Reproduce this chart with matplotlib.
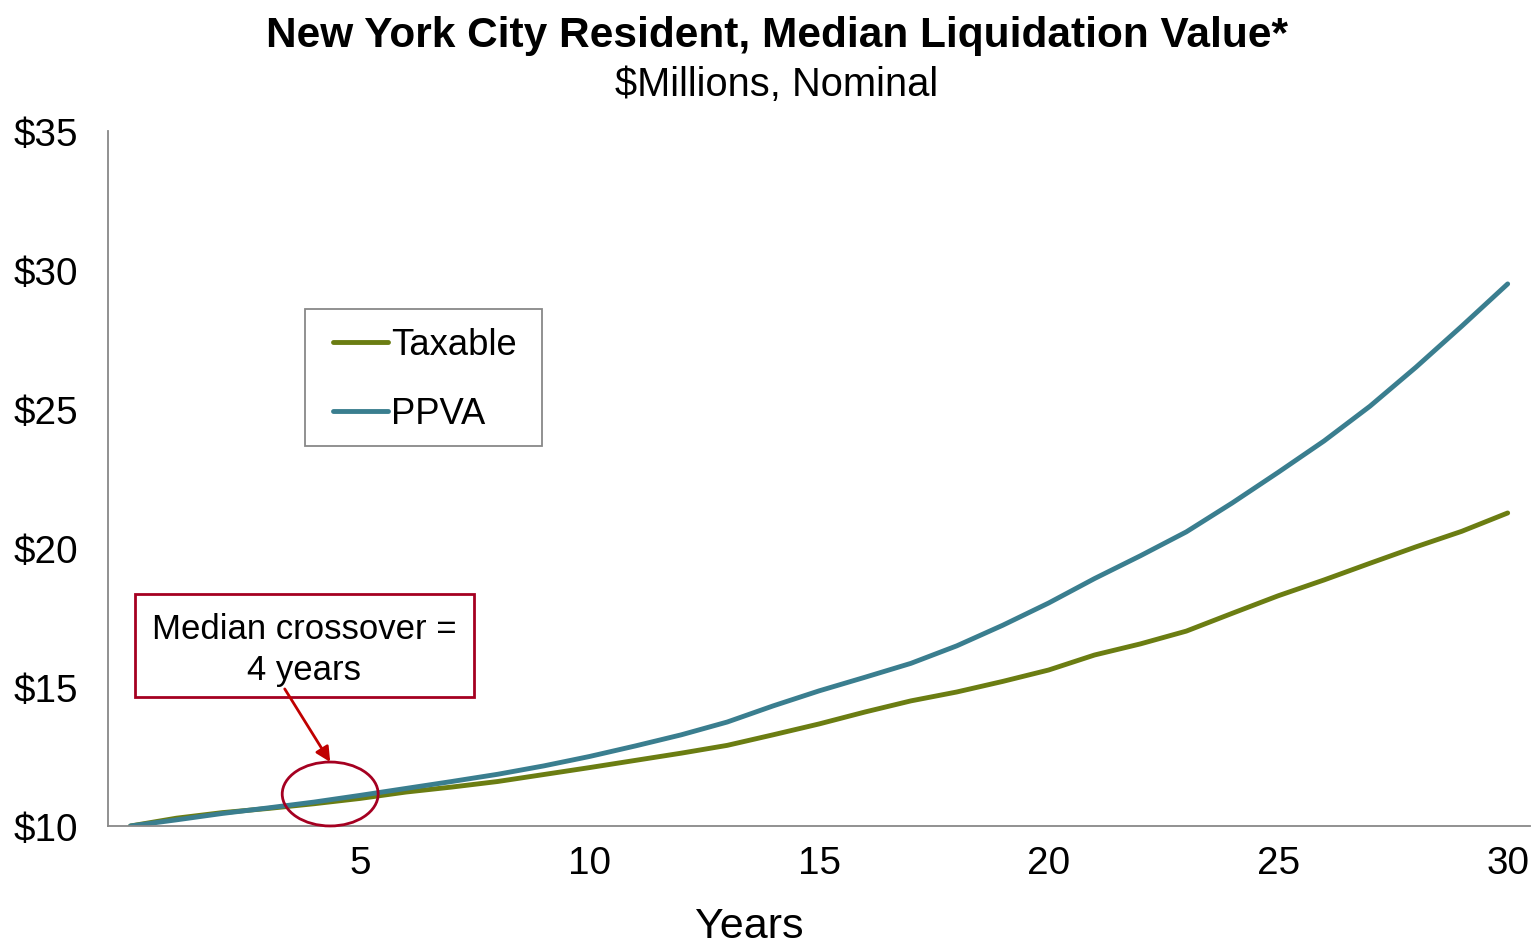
import numpy as np
import matplotlib
matplotlib.use("Agg")
from matplotlib import pyplot as plt
from matplotlib.patches import Ellipse, Rectangle

plt.rcParams['font.family'] = ['Liberation Sans', 'DejaVu Sans']

# values ($ millions, nominal)
years = list(range(0, 31))
taxable = [10.00, 10.28, 10.48, 10.63, 10.80, 10.99, 11.22, 11.40, 11.60, 11.85,
           12.10, 12.36, 12.62, 12.90, 13.28, 13.67, 14.10, 14.50, 14.82, 15.20,
           15.61, 16.15, 16.55, 17.01, 17.65, 18.28, 18.85, 19.45, 20.04, 20.60,
           21.26]
ppva = [10.00, 10.22, 10.45, 10.65, 10.86, 11.10, 11.35, 11.60, 11.86, 12.16,
        12.50, 12.88, 13.28, 13.74, 14.32, 14.86, 15.35, 15.85, 16.48, 17.22,
        18.02, 18.90, 19.72, 20.58, 21.62, 22.72, 23.85, 25.10, 26.50, 27.98,
        29.50]
series_names = ['Taxable', 'PPVA']
x_ticks = [5, 10, 15, 20, 25, 30]
y_ticks = [10, 15, 20, 25, 30, 35]

green = '#6B7D12'
teal = '#3A7E8F'
red = '#A50021'

fig = plt.figure(figsize=(15.32, 9.45), dpi=100)
ax = fig.add_axes([0.0705, 0.1249, 0.928, 0.7354])

ax.plot(years, taxable, color=green, lw=3.5, label=series_names[0], solid_capstyle='round')
ax.plot(years, ppva, color=teal, lw=3.5, label=series_names[1], solid_capstyle='round')

ax.set_xlim(-0.49, 30.48)
ax.set_ylim(10, 35)
ax.set_xticks(x_ticks)
ax.set_yticks(y_ticks)
ax.set_yticklabels(['$%d' % v for v in y_ticks])
ax.tick_params(axis='both', length=0, labelsize=27.8)
ax.tick_params(axis='y', pad=21.5)
ax.tick_params(axis='x', pad=14)
for s in ['top', 'right']:
    ax.spines[s].set_visible(False)
for s in ['left', 'bottom']:
    ax.spines[s].set_color('#888888')
    ax.spines[s].set_linewidth(1.3)

ax.set_xlabel('Years', fontsize=31)
ax.xaxis.set_label_coords(0.4508, -0.115)

fig.text(0.507, 0.962, 'New York City Resident, Median Liquidation Value*',
         ha='center', va='center', fontsize=30.5, fontweight='bold')
fig.text(0.507, 0.910, '$Millions, Nominal', ha='center', va='center', fontsize=28.7)

# legend without its own frame; frame drawn as a plain box around it
leg = ax.legend(loc='upper left', bbox_to_anchor=(0.1582, 0.7174), borderaxespad=0,
                fontsize=26.2, frameon=False, handlelength=1.5,
                handletextpad=0.1, labelspacing=0.93, borderpad=0)
ax.add_patch(Rectangle((0.1385, 0.5468), 0.1667, 0.1971, transform=ax.transAxes,
                       fill=False, edgecolor='#888888', lw=1.3))

# crossover callout
ax.add_patch(Ellipse((4.35, 11.15), 2.09, 2.30, fill=False, edgecolor=red, lw=2,
                     clip_on=False, zorder=5))
ax.add_patch(Rectangle((0.10, 14.64), 7.38, 3.71, fill=True, facecolor='white',
                       edgecolor=red, lw=2, zorder=5))
ax.text(3.78, 16.36, 'Median crossover =\n4 years', ha='center', va='center',
        fontsize=25, linespacing=1.32, zorder=6)
ax.annotate('', xy=(4.35, 12.30), xytext=(3.36, 14.93),
            arrowprops=dict(arrowstyle='-|>', color='#C00000', lw=2,
                            mutation_scale=22, shrinkA=0, shrinkB=0), zorder=6)

fig.savefig('out.png', dpi=100)
